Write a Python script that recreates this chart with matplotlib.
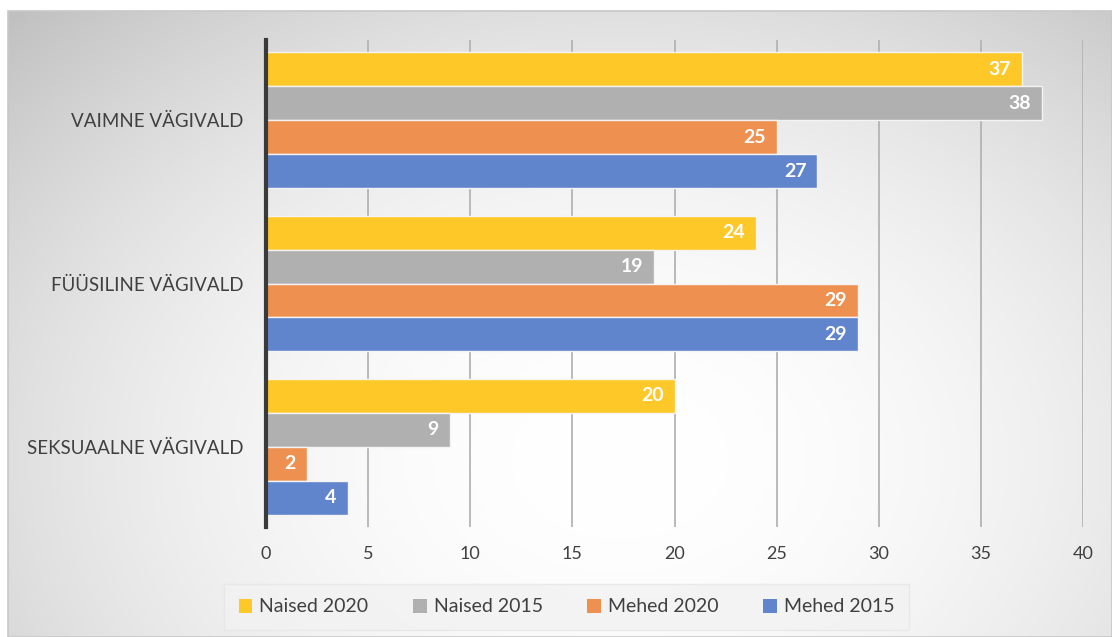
import numpy as np
import matplotlib
matplotlib.use("Agg")
import matplotlib.pyplot as plt
from matplotlib.patches import Patch, Rectangle

categories = ["VAIMNE VÄGIVALD", "FÜÜSILINE VÄGIVALD", "SEKSUAALNE VÄGIVALD"]
series_names = ["Naised 2020", "Naised 2015", "Mehed 2020", "Mehed 2015"]
naised_2020 = [37, 24, 20]
naised_2015 = [38, 19, 9]
mehed_2020 = [25, 29, 2]
mehed_2015 = [27, 29, 4]
x_ticks = [0, 5, 10, 15, 20, 25, 30, 35, 40]

series_values = [naised_2020, naised_2015, mehed_2020, mehed_2015]
colors = ["#FDC828", "#B0B0B0", "#EE9050", "#6185CD"]

FONT = "Lato"
W, H = 1112, 637
fig = plt.figure(figsize=(W / 100, H / 100), dpi=100)
fig.patch.set_facecolor("white")

# background gradient panel
bx0, by0 = 8 / W, 0
bw, bh = (W - 8) / W, (H - 11) / H
bg = fig.add_axes([bx0, by0, bw, bh], zorder=0)
ny, nx = 300, 520
yy, xx = np.mgrid[0:ny, 0:nx]
px = 8 + xx / (nx - 1) * (W - 8)
py = 11 + yy / (ny - 1) * (H - 11)
r = np.sqrt(((px - 620) / 700) ** 2 + ((py - 460) / 520) ** 2)
v = np.clip(1 - 0.165 * r ** 2, 0, 1)
img = np.dstack([v, v, v])
bg.imshow(img, aspect="auto", extent=[0, 1, 0, 1], origin="upper")
bg.set_axis_off()
fig.add_artist(Rectangle((bx0, by0), bw, bh, transform=fig.transFigure,
                         fill=False, edgecolor="#C8C8C8", lw=1.2, zorder=1))

ax_l, ax_r = 266 / W, 1083 / W
ax_t, ax_b = 40 / H, 527 / H
ax = fig.add_axes([ax_l, 1 - ax_b, ax_r - ax_l, ax_b - ax_t], zorder=2)
ax.patch.set_alpha(0)

n = len(series_names)
bar_h = 0.208
ypos = np.arange(len(categories))
for i, (name, vals, c) in enumerate(zip(series_names, series_values, colors)):
    offs = (i - (n - 1) / 2) * bar_h
    bars = ax.barh(ypos + offs, vals, height=bar_h, color=c, edgecolor="#F4F4F4",
                   linewidth=1.0, label=name, zorder=3)
    for b, val in zip(bars, vals):
        ax.annotate(str(val), (b.get_width(), b.get_y() + b.get_height() / 2),
                    xytext=(-8, 0), textcoords="offset points", ha="right", va="center",
                    color="white", fontsize=14, fontweight="bold", family=FONT, zorder=4)

ax.set_xlim(0, 40)
ax.set_ylim(len(categories) - 0.51, -0.49)
ax.set_xticks(x_ticks)
ax.set_xticklabels([str(t) for t in x_ticks], family=FONT, fontsize=13, color="#404040")
ax.set_yticks(ypos)
ax.set_yticklabels(categories, family=FONT, fontsize=13.5, color="#404040")
ax.tick_params(axis="x", length=0, pad=14)
ax.tick_params(axis="y", length=0, pad=16)
ax.grid(axis="x", color="#B4B4B4", lw=1.3, zorder=1)
ax.grid(axis="y", visible=False)
for s in ["top", "right", "bottom"]:
    ax.spines[s].set_visible(False)
ax.spines["left"].set_color("#3A3A3A")
ax.spines["left"].set_linewidth(3)
ax.spines["left"].set_zorder(5)

handles = [Patch(facecolor=c, edgecolor="none") for c in colors]
leg = fig.legend(handles, series_names, loc="center", ncol=4,
                 bbox_to_anchor=((228 + 905) / 2 / W, 1 - 607 / H),
                 prop={"family": FONT, "size": 14}, frameon=True, fancybox=False,
                 handlelength=0.7, handleheight=0.7, handletextpad=0.35,
                 columnspacing=2.3, borderpad=0.75)
leg.get_frame().set_facecolor("#F2F2F2")
leg.get_frame().set_edgecolor("#E6E6E6")
leg.get_frame().set_linewidth(1)
for t in leg.get_texts():
    t.set_color("#404040")
leg.set_zorder(6)

fig.savefig("out.png", dpi=100)
